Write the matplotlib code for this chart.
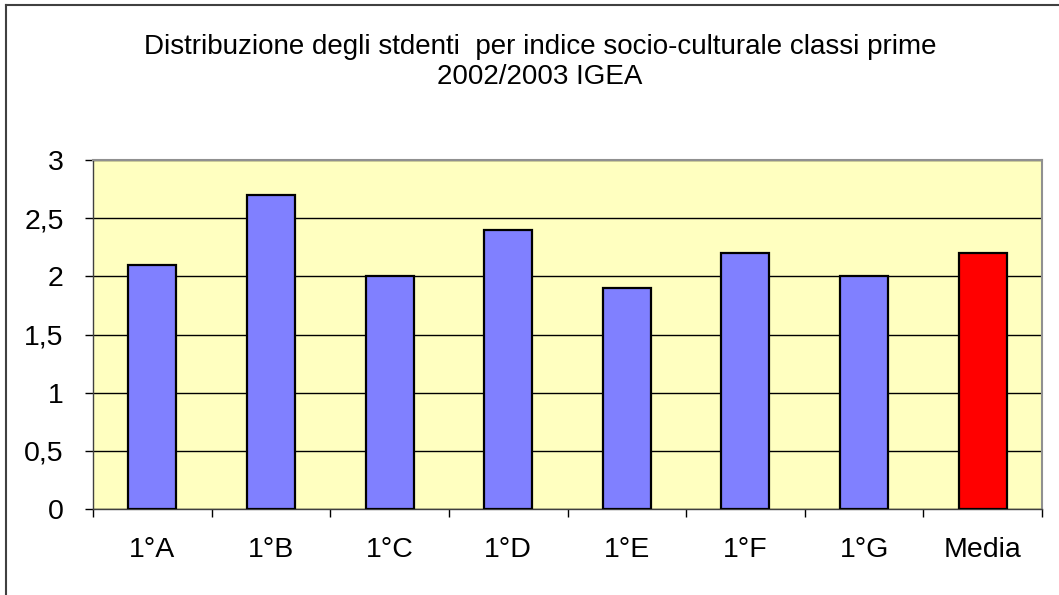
import matplotlib
matplotlib.use("Agg")
import matplotlib.pyplot as plt
from matplotlib.lines import Line2D

categories = ["1°A", "1°B", "1°C", "1°D", "1°E", "1°F", "1°G", "Media"]
values = [2.1, 2.7, 2.0, 2.4, 1.9, 2.2, 2.0, 2.2]
colors = ["#8080FF"] * 7 + ["#FF0000"]
yticks = [0, 0.5, 1, 1.5, 2, 2.5, 3]
ytick_labels = ["0", "0,5", "1", "1,5", "2", "2,5", "3"]
title = "Distribuzione degli stdenti  per indice socio-culturale classi prime\n2002/2003 IGEA"

plt.rcParams['font.family'] = ['Liberation Sans', 'DejaVu Sans']

fig = plt.figure(figsize=(10.59, 5.95), dpi=100)
ax = fig.add_axes([93/1059, 1 - 509/595, (1042-93)/1059, (509-160)/595])
ax.set_facecolor("#FFFFC0")

x = list(range(len(categories)))
ax.bar(x, values, width=0.405, color=colors, edgecolor="black", linewidth=1.6, zorder=3)

ax.set_xlim(-0.5, len(categories) - 0.5)
ax.set_ylim(0, 3)
ax.set_yticks(yticks)
ax.set_yticklabels(ytick_labels, fontsize=20.5)
ax.set_xticks(x)
ax.set_xticklabels(categories, fontsize=20.5)
ax.tick_params(axis='x', length=0, pad=20)
ax.tick_params(axis='y', length=6, direction='out', width=1, pad=15)
# x minor ticks at category boundaries
ax.set_xticks([i - 0.5 for i in range(len(categories) + 1)], minor=True)
ax.tick_params(axis='x', which='minor', length=6, direction='out', width=1)

ax.yaxis.grid(True, color="black", linewidth=1, zorder=1)
ax.set_axisbelow(True)
for s in ["top", "right"]:
    ax.spines[s].set_color("#909090")
    ax.spines[s].set_linewidth(1.5)
for s in ["left", "bottom"]:
    ax.spines[s].set_color("#404040")
    ax.spines[s].set_linewidth(1)

fig.text(540/1059, 1 - 62/595, title, ha="center", va="center", fontsize=20, linespacing=1.25)

# figure border (top and left visible)
fig.add_artist(Line2D([6/1059, 6/1059], [0, 1 - 5/595], transform=fig.transFigure, color="#404040", linewidth=1.5))
fig.add_artist(Line2D([6/1059, 1], [1 - 5/595, 1 - 5/595], transform=fig.transFigure, color="#404040", linewidth=1.5))

fig.savefig("out.png", dpi=100)
